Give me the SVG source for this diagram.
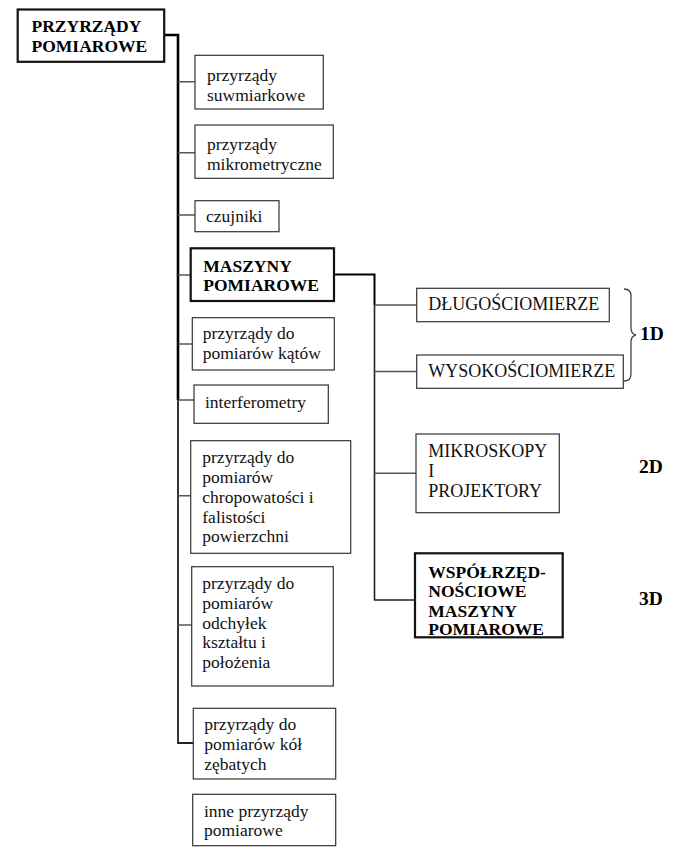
<svg xmlns="http://www.w3.org/2000/svg" width="685" height="853" viewBox="0 0 685 853">
<style>
.box{fill:#fff;stroke:#333;stroke-width:1.2}
.bold{fill:#fff;stroke:#111;stroke-width:2.2}
.t{font-family:"Liberation Serif","Times New Roman",serif;font-size:17.5px;fill:#111}
.tc{font-family:"Liberation Serif","Times New Roman",serif;font-size:18px;fill:#111}
.tb{font-family:"Liberation Serif","Times New Roman",serif;font-size:17.5px;font-weight:bold;fill:#000}
.dim{font-family:"Liberation Serif","Times New Roman",serif;font-size:19.5px;font-weight:bold;fill:#000}
.br{fill:none;stroke:#555;stroke-width:1.5}
.main{fill:none;stroke:#000;stroke-width:2.6}
.sub{fill:none;stroke:#222;stroke-width:1.8}
</style>
<rect width="685" height="853" fill="#fff"/>
<g id="connectors">
<path class="main" d="M164,35 H178 V400"/>
<path class="sub" d="M178,400 V743 H193"/>
<path class="br" d="M178,81.7 H195 M178,152.7 H195 M178,215 H195 M178,275 H191 M178,344 H192 M178,400 H194 M178,495.7 H191 M178,625 H192"/>
<path class="main" style="stroke-width:2" d="M334,274.5 H374.5 V305"/>
<path class="sub" style="stroke-width:1.6" d="M374.5,305 V600 H415"/>
<path class="br" d="M374.5,305 H417 M374.5,371.5 H417 M374.5,473.3 H416"/>
<path fill="none" stroke="#444" stroke-width="1.3" d="M624,289 Q631,289 631,296 V328 Q631,334 636,335 Q631,336 631,342 V374 Q631,381 624,381"/>
</g>
<g id="n-root">
<rect class="bold" x="17.7" y="9.5" width="146.5" height="52.3"/>
<text class="tb" x="31.5" y="32">PRZYRZĄDY</text>
<text class="tb" x="31.5" y="51.5">POMIAROWE</text>
</g>
<g id="n-suwmiarkowe">
<rect class="box" x="195" y="55.3" width="128.3" height="53.7"/>
<text class="t" x="207" y="81">przyrządy</text>
<text class="t" x="207" y="101">suwmiarkowe</text>
</g>
<g id="n-mikrometryczne">
<rect class="box" x="195" y="125" width="138.3" height="53.3"/>
<text class="t" x="207" y="150">przyrządy</text>
<text class="t" x="207" y="170">mikrometryczne</text>
</g>
<g id="n-czujniki">
<rect class="box" x="195" y="200.7" width="84" height="31"/>
<text class="t" x="206" y="222">czujniki</text>
</g>
<g id="n-maszyny">
<rect class="bold" x="190.7" y="248.3" width="143.3" height="52.7"/>
<text class="tb" x="203.3" y="271.5">MASZYNY</text>
<text class="tb" x="203.3" y="291">POMIAROWE</text>
</g>
<g id="n-katow">
<rect class="box" x="192.3" y="317.7" width="142" height="52.3"/>
<text class="t" x="202.7" y="338.5">przyrządy do</text>
<text class="t" x="202.7" y="358.5">pomiarów kątów</text>
</g>
<g id="n-interferometry">
<rect class="box" x="194" y="385" width="134.3" height="38.3"/>
<text class="t" x="205" y="408">interferometry</text>
</g>
<g id="n-chropowatosci">
<rect class="box" x="190.7" y="440.7" width="160" height="112.6"/>
<text class="t" x="202.3" y="463.3">przyrządy do</text>
<text class="t" x="202.3" y="483">pomiarów</text>
<text class="t" x="202.3" y="502.7">chropowatości i</text>
<text class="t" x="202.3" y="522.5">falistości</text>
<text class="t" x="202.3" y="542">powierzchni</text>
</g>
<g id="n-odchylek">
<rect class="box" x="191.7" y="566.7" width="141.6" height="119.3"/>
<text class="t" x="202.3" y="589.3">przyrządy do</text>
<text class="t" x="202.3" y="608.7">pomiarów</text>
<text class="t" x="202.3" y="628.5">odchyłek</text>
<text class="t" x="202.3" y="648.3">kształtu i</text>
<text class="t" x="202.3" y="668">położenia</text>
</g>
<g id="n-kol">
<rect class="box" x="193.3" y="708.3" width="142.4" height="70.7"/>
<text class="t" x="204.3" y="730">przyrządy do</text>
<text class="t" x="204.3" y="750">pomiarów kół</text>
<text class="t" x="204.3" y="770">zębatych</text>
</g>
<g id="n-inne">
<rect class="box" x="192.7" y="794.3" width="143" height="51.4"/>
<text class="t" x="204" y="816.5">inne przyrządy</text>
<text class="t" x="204" y="836">pomiarowe</text>
</g>
<g id="n-dlugosciomierze">
<rect class="box" x="416.7" y="288.3" width="192.6" height="33.4"/>
<text class="tc" x="428.3" y="309.5">DŁUGOŚCIOMIERZE</text>
</g>
<g id="n-wysokosciomierze">
<rect class="box" x="416.7" y="355" width="206.6" height="33.3"/>
<text class="tc" x="428.3" y="376.5">WYSOKOŚCIOMIERZE</text>
</g>
<g id="n-mikroskopy">
<rect class="box" x="416" y="434" width="143.3" height="78.7"/>
<text class="tc" x="428.3" y="456.5">MIKROSKOPY</text>
<text class="tc" x="428.3" y="476.5">I</text>
<text class="tc" x="428.3" y="496.5">PROJEKTORY</text>
</g>
<g id="n-wspolrzedno">
<rect class="bold" x="415" y="553.3" width="147.7" height="84"/>
<text class="tb" x="428.3" y="578.3">WSPÓŁRZĘD-</text>
<text class="tb" x="428.3" y="597">NOŚCIOWE</text>
<text class="tb" x="428.3" y="616.5">MASZYNY</text>
<text class="tb" x="428.3" y="635">POMIAROWE</text>
</g>
<g id="labels">
<text class="dim" x="640" y="339.5">1D</text>
<text class="dim" x="639" y="472.5">2D</text>
<text class="dim" x="639" y="605">3D</text>
</g>
</svg>
